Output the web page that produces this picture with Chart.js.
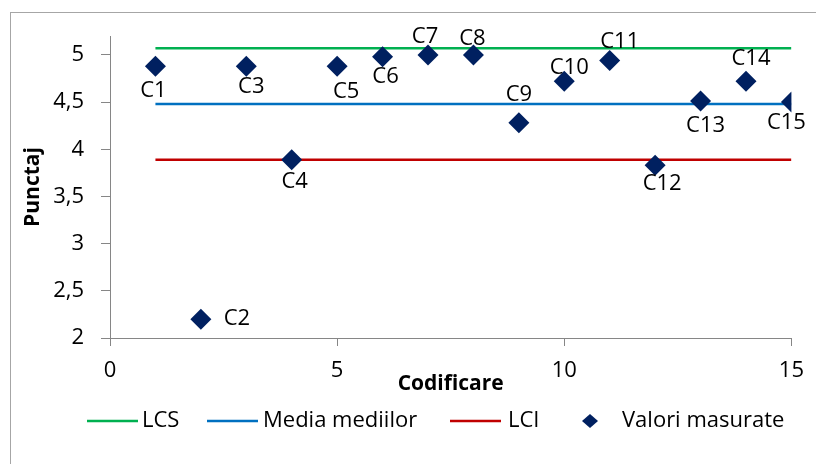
<!DOCTYPE html>
<html>
<head>
<meta charset="utf-8">
<script src="https://cdn.jsdelivr.net/npm/chart.js@4.4.0/dist/chart.umd.min.js"></script>
<style>
  html, body { margin: 0; padding: 0; background: #fff; overflow: hidden; }
  #frame { position: absolute; left: 10px; top: 12px; width: 900px; height: 600px; border: 1px solid #a6a6a6; }
  #wrap { position: absolute; left: 0; top: 0; width: 816px; height: 464px; }
</style>
</head>
<body>
<div id="frame"></div>
<div id="wrap"><canvas id="chart" width="816" height="464"></canvas></div>
<script>
// codes on the x axis and measured scores
const codes = [1, 2, 3, 4, 5, 6, 7, 8, 9, 10, 11, 12, 13, 14, 15];
const pointNames = ['C1', 'C2', 'C3', 'C4', 'C5', 'C6', 'C7', 'C8', 'C9', 'C10', 'C11', 'C12', 'C13', 'C14', 'C15'];
const measured = [4.88, 2.2, 4.88, 3.89, 4.88, 4.98, 5.0, 5.0, 4.28, 4.72, 4.94, 3.83, 4.51, 4.72, 4.5];

// control lines (constant across all codes)
const lcs = [5.07, 5.07, 5.07, 5.07, 5.07, 5.07, 5.07, 5.07, 5.07, 5.07, 5.07, 5.07, 5.07, 5.07, 5.07];
const mediaMediilor = [4.48, 4.48, 4.48, 4.48, 4.48, 4.48, 4.48, 4.48, 4.48, 4.48, 4.48, 4.48, 4.48, 4.48, 4.48];
const lci = [3.89, 3.89, 3.89, 3.89, 3.89, 3.89, 3.89, 3.89, 3.89, 3.89, 3.89, 3.89, 3.89, 3.89, 3.89];

const xTicks = [0, 5, 10, 15];
const yTicks = [2, 2.5, 3, 3.5, 4, 4.5, 5];

// label nudges (px from the marker centre), like hand-placed Excel labels
const labelNudge = [[-2, 25], [36, 0], [5, 21], [3, 22], [9, 26], [3, 20], [-3, -18], [-1, -16],
  [0, -28], [5, -14], [10, -19], [7, 18], [5, 25], [5, -23], [-5, 21]];

const FONT = '"Open Sans"';
const axisGray = '#868686';

const toXY = vals => codes.map((c, i) => ({ x: c, y: vals[i] }));

const lineDs = (label, vals, color) => ({
  label, data: toXY(vals), showLine: true, borderColor: color, backgroundColor: color,
  borderWidth: 2.5, pointRadius: 0, pointHoverRadius: 0, order: 2
});

const pointLabels = {
  id: 'pointLabels',
  afterDatasetsDraw(chart) {
    const ctx = chart.ctx;
    const meta = chart.getDatasetMeta(3);
    ctx.save();
    ctx.font = '22px ' + FONT;
    ctx.fillStyle = '#000';
    ctx.textBaseline = 'middle';
    ctx.textAlign = 'center';
    meta.data.forEach((pt, i) => {
      const [dx, dy] = labelNudge[i];
      ctx.fillText(pointNames[i], pt.x + dx, pt.y + dy);
    });
    ctx.restore();
  }
};

// legend row: sample start and text start for each item
const legendSampleX = [87, 207, 450, 565];
const legendTextX = [142, 263, 508, 622];

const legendRow = {
  id: 'legendRow',
  afterDraw(chart) {
    const ctx = chart.ctx;
    const y = 421;
    ctx.save();
    ctx.font = '22px ' + FONT;
    ctx.textBaseline = 'middle';
    ctx.textAlign = 'left';
    chart.data.datasets.forEach((ds, i) => {
      const x = legendSampleX[i];
      if (ds.showLine) {
        ctx.strokeStyle = ds.borderColor;
        ctx.lineWidth = 2.5;
        ctx.beginPath();
        ctx.moveTo(x, y);
        ctx.lineTo(x + 51, y);
        ctx.stroke();
      } else {
        const cx = x + 25;
        ctx.fillStyle = ds.backgroundColor;
        ctx.beginPath();
        ctx.moveTo(cx - 8, y);
        ctx.lineTo(cx, y - 7);
        ctx.lineTo(cx + 8, y);
        ctx.lineTo(cx, y + 7);
        ctx.closePath();
        ctx.fill();
      }
      ctx.fillStyle = '#000';
      ctx.fillText(ds.label, legendTextX[i], y);
    });
    ctx.restore();
  }
};

new Chart(document.getElementById('chart'), {
  type: 'scatter',
  data: {
    datasets: [
      lineDs('LCS', lcs, '#00b050'),
      lineDs('Media mediilor', mediaMediilor, '#0070c0'),
      lineDs('LCI', lci, '#c00000'),
      {
        label: 'Valori masurate', data: toXY(measured), showLine: false,
        pointStyle: 'rectRot', pointRadius: 10.5, pointHoverRadius: 10.5,
        backgroundColor: '#002060', borderColor: '#002060', borderWidth: 0, order: 1
      }
    ]
  },
  options: {
    responsive: false,
    animation: false,
    events: [],
    layout: { padding: { left: 10, top: 36, right: 23, bottom: 67 } },
    plugins: { legend: { display: false }, tooltip: { enabled: false } },
    scales: {
      x: {
        type: 'linear', min: 0, max: 15,
        afterBuildTicks: s => { s.ticks = xTicks.map(v => ({ value: v })); },
        afterFit: s => { s.height = 59; },
        grid: { drawOnChartArea: false, tickLength: 8, tickColor: axisGray },
        border: { color: axisGray, width: 1 },
        ticks: { color: '#000', font: { family: FONT, size: 22 }, padding: 12 },
        title: { display: true, text: 'Codificare', color: '#000', font: { family: FONT, size: 21, weight: 'bold' }, padding: 0 }
      },
      y: {
        type: 'linear', min: 2, max: 5.2,
        afterBuildTicks: s => { s.ticks = yTicks.map(v => ({ value: v })); },
        afterFit: s => { s.width = 100; },
        grid: { drawOnChartArea: false, tickLength: 9, tickColor: axisGray },
        border: { color: axisGray, width: 1 },
        ticks: { color: '#000', font: { family: FONT, size: 22 }, padding: 17,
          callback: v => String(v).replace('.', ',') },
        title: { display: true, text: 'Punctaj', color: '#000', font: { family: FONT, size: 21, weight: 'bold' }, padding: { top: 10, bottom: 0 } }
      }
    }
  },
  plugins: [pointLabels, legendRow]
});
</script>
</body>
</html>
